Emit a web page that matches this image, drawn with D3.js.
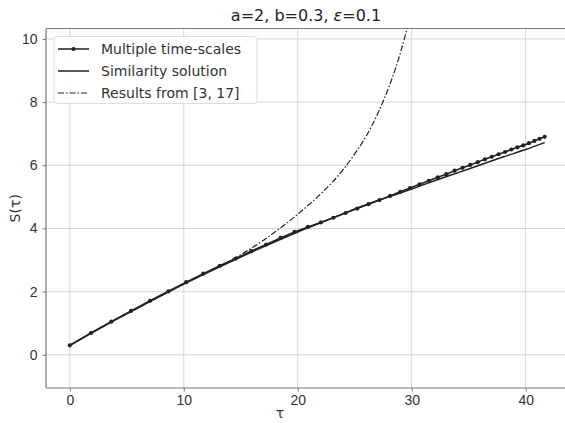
<!DOCTYPE html>
<html>
<head>
<meta charset="utf-8">
<script src="https://cdn.jsdelivr.net/npm/d3@7"></script>
<style>
  body { margin: 0; background: #fff; }
  svg { font-family: "DejaVu Sans", sans-serif; }
  .grid line { stroke: #d6d6d6; stroke-width: 1; }
  .axis path, .axis line { stroke: #777; }
  .axis text { fill: #333; font-size: 14px; }
</style>
</head>
<body>
<svg width="565" height="423"></svg>
<script>
// Multiple time-scales (markers)
var mtsTau = [0, 1.85, 3.64, 5.37, 7.04, 8.65, 10.21, 11.71, 13.16, 14.56, 15.92, 17.23,
  18.49, 19.71, 20.89, 22.03, 23.13, 24.19, 25.22, 26.21, 27.17, 28.10, 28.99, 29.85,
  30.69, 31.50, 32.28, 33.03, 33.76, 34.46, 35.14, 35.79, 36.42, 37.03, 37.62, 38.19,
  38.74, 39.27, 39.78, 40.28, 40.76, 41.22, 41.67];
var mtsS = [0.30, 0.69, 1.05, 1.39, 1.71, 2.01, 2.30, 2.57, 2.82, 3.05, 3.28, 3.49,
  3.70, 3.89, 4.05, 4.19, 4.34, 4.49, 4.63, 4.77, 4.90, 5.03, 5.16, 5.28,
  5.40, 5.51, 5.62, 5.72, 5.83, 5.92, 6.01, 6.10, 6.19, 6.27, 6.35, 6.42,
  6.50, 6.57, 6.63, 6.70, 6.77, 6.84, 6.90];

// Similarity solution
var simTau = [0, 2, 4, 6, 8, 10, 12, 14, 16, 18, 20, 22, 24, 26, 28, 30, 32, 34, 36, 38, 40, 41.67];
var simS = [0.30, 0.71, 1.11, 1.49, 1.87, 2.24, 2.59, 2.93, 3.26, 3.58, 3.89, 4.18,
  4.47, 4.75, 5.00, 5.25, 5.51, 5.76, 6.01, 6.26, 6.50, 6.72];

// Results from [3, 17]
var refTau = [0, 2, 4, 6, 8, 10, 12, 14, 15, 16, 17, 18, 19, 20, 21, 22, 23, 24, 25,
  26, 26.5, 27, 27.5, 28, 28.5, 29, 29.5, 29.8];
var refS = [0.30, 0.71, 1.11, 1.49, 1.87, 2.24, 2.60, 2.97, 3.17, 3.39, 3.63, 3.89, 4.16,
  4.45, 4.76, 5.09, 5.45, 5.87, 6.36, 6.92, 7.25, 7.62, 8.03, 8.48, 8.98, 9.55, 10.2, 10.6];

var xTicks = [0, 10, 20, 30, 40];
var yTicks = [0, 2, 4, 6, 8, 10];
var legendLabels = ["Multiple time-scales", "Similarity solution", "Results from [3, 17]"];

var svg = d3.select("svg");
var pLeft = 46, pRight = 570, pTop = 28.5, pBottom = 388;

var x = d3.scaleLinear().domain([-2.09, 43.89]).range([pLeft, pRight]);
var y = d3.scaleLinear().domain([-1.05, 10.33]).range([pBottom, pTop]);

var defs = svg.append("defs");
defs.append("clipPath").attr("id", "plot")
  .append("rect").attr("x", pLeft).attr("y", pTop)
  .attr("width", pRight - pLeft).attr("height", pBottom - pTop);

// grid
var grid = svg.append("g").attr("class", "grid");
grid.selectAll(".gx").data(xTicks).enter().append("line")
  .attr("x1", function(d) { return x(d); }).attr("x2", function(d) { return x(d); })
  .attr("y1", pTop).attr("y2", pBottom);
grid.selectAll(".gy").data(yTicks).enter().append("line")
  .attr("y1", function(d) { return y(d); }).attr("y2", function(d) { return y(d); })
  .attr("x1", pLeft).attr("x2", pRight);

// axes
svg.append("g").attr("class", "axis")
  .attr("transform", "translate(0," + pBottom + ")")
  .call(d3.axisBottom(x).tickValues(xTicks).tickSize(3.5).tickPadding(4).tickFormat(d3.format("d")));
svg.append("g").attr("class", "axis")
  .attr("transform", "translate(" + pLeft + ",0)")
  .call(d3.axisLeft(y).tickValues(yTicks).tickSize(3.5).tickPadding(5).tickFormat(d3.format("d")));
svg.selectAll(".axis .domain").remove();

// spines
svg.append("line").attr("x1", pLeft).attr("x2", pLeft).attr("y1", pTop).attr("y2", pBottom)
  .attr("stroke", "#777").attr("stroke-width", 1.2);
svg.append("line").attr("x1", pLeft).attr("x2", pRight).attr("y1", pBottom).attr("y2", pBottom)
  .attr("stroke", "#777").attr("stroke-width", 1.2);
svg.append("line").attr("x1", pLeft).attr("x2", pRight).attr("y1", pTop).attr("y2", pTop)
  .attr("stroke", "#777").attr("stroke-width", 1.2);

var plot = svg.append("g").attr("clip-path", "url(#plot)");

function pts(ts, ss) { return ts.map(function(t, i) { return [t, ss[i]]; }); }
var line = d3.line().x(function(d) { return x(d[0]); }).y(function(d) { return y(d[1]); })
  .curve(d3.curveMonotoneX);

plot.append("path").datum(pts(refTau, refS))
  .attr("d", line).attr("fill", "none").attr("stroke", "#222")
  .attr("stroke-width", 1.2).attr("stroke-dasharray", "6,2,1.5,2");

plot.append("path").datum(pts(simTau, simS))
  .attr("d", line).attr("fill", "none").attr("stroke", "#222").attr("stroke-width", 1.5);

plot.append("path").datum(pts(mtsTau, mtsS))
  .attr("d", d3.line().x(function(d) { return x(d[0]); }).y(function(d) { return y(d[1]); }))
  .attr("fill", "none").attr("stroke", "#222").attr("stroke-width", 1.6);

plot.selectAll(".mk").data(pts(mtsTau, mtsS)).enter().append("circle")
  .attr("cx", function(d) { return x(d[0]); })
  .attr("cy", function(d) { return y(d[1]); })
  .attr("r", 2.1).attr("fill", "#222");

// title
var title = svg.append("text").attr("x", (pLeft + pRight) / 2 - 2).attr("y", 21)
  .attr("text-anchor", "middle").attr("font-size", 16).attr("fill", "#222");
title.append("tspan").text("a=2, b=0.3, ");
title.append("tspan").attr("font-style", "italic").text("ε");
title.append("tspan").text("=0.1");

// axis labels
svg.append("text").attr("x", 280).attr("y", 418).attr("text-anchor", "middle")
  .attr("font-size", 14).attr("fill", "#333").text("τ");
svg.append("text").attr("transform", "translate(20," + ((pTop + pBottom) / 2) + ") rotate(-90)")
  .attr("text-anchor", "middle").attr("font-size", 14).attr("fill", "#333").text("S(τ)");

// legend
var lg = svg.append("g");
lg.append("rect").attr("x", 54).attr("y", 36.5).attr("width", 203).attr("height", 67)
  .attr("rx", 3).attr("fill", "#fff").attr("fill-opacity", 0.85)
  .attr("stroke", "#ddd").attr("stroke-width", 1);
var item = lg.selectAll(".li").data(legendLabels).enter().append("g")
  .attr("transform", function(d, i) { return "translate(0," + (49 + i * 22) + ")"; });
item.append("line").attr("x1", 58).attr("x2", 89).attr("y1", 0).attr("y2", 0)
  .attr("stroke", "#222")
  .attr("stroke-width", function(d, i) { return i == 2 ? 1.2 : 1.5; })
  .attr("stroke-dasharray", function(d, i) { return i == 2 ? "6,2,1.5,2" : null; });
item.filter(function(d, i) { return i == 0; }).append("circle")
  .attr("cx", 73.5).attr("cy", 0).attr("r", 2.1).attr("fill", "#222");
item.append("text").attr("x", 101).attr("y", 5).attr("font-size", 14).attr("fill", "#333")
  .text(function(d) { return d; });
</script>
</body>
</html>
